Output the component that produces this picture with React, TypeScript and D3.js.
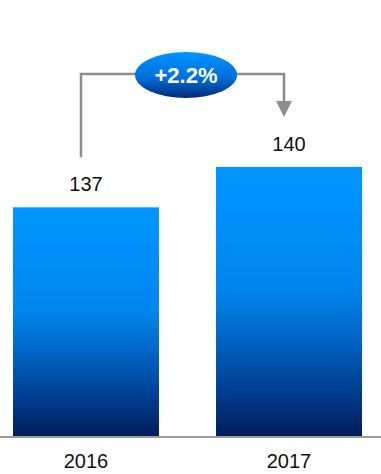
import React from "react";
import * as d3 from "d3";

const categories = ["2016", "2017"];
const values = [137, 140];
const changeLabel = "+2.2%";

const W = 381;
const H = 474;

export default function App() {
  const x = d3.scaleBand<string>().domain(categories).range([13, 362]).paddingInner(0.281).paddingOuter(0);
  const y = d3.scaleLinear().domain([120, 140]).range([436, 167]);
  const base = 436;
  const font = "'Liberation Sans', Arial, sans-serif";
  const cx = (c: string) => (x(c) ?? 0) + x.bandwidth() / 2;
  const leftX = 81;
  const rightX = 284;
  const bracketY = 74;
  return (
    <svg width={W} height={H} style={{ position: "absolute", left: 0, top: 0, display: "block" }}>
      <defs>
        <linearGradient id="barGrad" x1="0" y1="0" x2="0" y2="1">
          <stop offset="0" stopColor="#0096ff" />
          <stop offset="0.45" stopColor="#0086ee" />
          <stop offset="0.62" stopColor="#0068c8" />
          <stop offset="0.8" stopColor="#00449a" />
          <stop offset="1" stopColor="#001e5a" />
        </linearGradient>
        <linearGradient id="ellGrad" x1="0" y1="0" x2="0" y2="1">
          <stop offset="0" stopColor="#0094ff" />
          <stop offset="0.55" stopColor="#0070dc" />
          <stop offset="1" stopColor="#002a78" />
        </linearGradient>
      </defs>
      {categories.map((c, i) => (
        <g key={c}>
          <rect x={x(c)} y={y(values[i])} width={x.bandwidth()} height={base - y(values[i])} fill="url(#barGrad)" />
          <text x={cx(c)} y={y(values[i]) - 16} textAnchor="middle" fontFamily={font} fontSize={20} fill="#111">
            {values[i]}
          </text>
          <text x={cx(c)} y={468} textAnchor="middle" fontFamily={font} fontSize={20} fill="#111">
            {c}
          </text>
        </g>
      ))}
      <line x1={0} x2={W} y1={base + 1} y2={base + 1} stroke="#9a9a9a" strokeWidth={2} />
      <path
        d={`M${leftX},${y(values[0]) - 50} V${bracketY} H${rightX} V${102}`}
        fill="none"
        stroke="#8c8c8c"
        strokeWidth={2.5}
      />
      <path d={`M${rightX - 8},101 L${rightX + 8},101 L${rightX},117 Z`} fill="#8c8c8c" />
      <ellipse cx={186} cy={75} rx={51} ry={23} fill="url(#ellGrad)" />
      <text x={186} y={83} textAnchor="middle" fontFamily={font} fontSize={22} fontWeight="bold" fill="#fff">
        {changeLabel}
      </text>
    </svg>
  );
}
